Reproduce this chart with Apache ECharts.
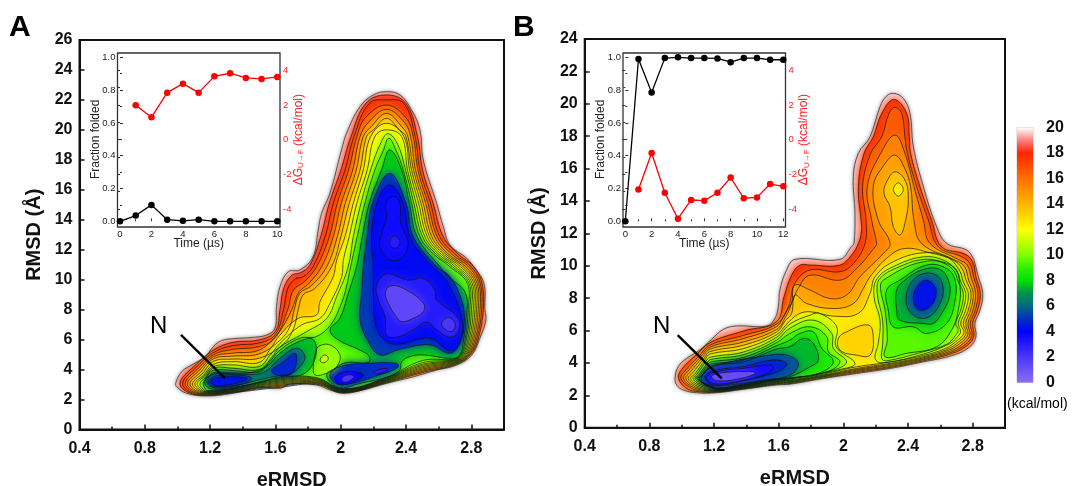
<!DOCTYPE html>
<html><head><meta charset="utf-8">
<script src="https://cdn.jsdelivr.net/npm/echarts@6/dist/echarts.min.js"></script>
<style>html,body{margin:0;padding:0;background:#fff}#c{width:1072px;height:486px}</style></head>
<body><div id="c"></div>
<script>
// ---- inset curves ----
const timeA=[0,1,2,3,4,5,6,7,8,9,10];
const foldedA=[0,0.035,0.1,0.01,0.003,0.01,0,0,0,0,0];
const dgTimeA=[1,2,3,4,5,6,7,8,9,10];
const dgA=[1.98,1.29,2.71,3.23,2.71,3.65,3.83,3.56,3.5,3.62];
const timeB=[0,1,2,3,4,5,6,7,8,9,10,11,12];
const foldedB=[0,0.99,0.785,0.995,1,0.995,0.995,0.993,0.97,0.995,0.995,0.985,0.985];
const dgTimeB=[1,2,3,4,5,6,7,8,9,10,11,12];
const dgB=[-2.88,-0.77,-3.06,-4.56,-3.48,-3.52,-3.06,-2.19,-3.38,-3.33,-2.56,-2.69];
// ---- colour scale ----
const scaleLevels=[0,2,4,5,6,7,8,9,10,12,14,16,18,19,20];
const scaleColors=['#8f6cf5','#4a36fa','#0000ff','#0030c0','#006a80','#009050','#00e000','#30f000','#80ff00','#ffff00','#ffb400','#ff7000','#ff2400','#ff8080','#ffffff'];
// ---- pointer to the native basin N: [eRMSD, RMSD] ----
const pointerA=[[1.0215,6.31],[1.2905,3.42]];
const pointerB=[[0.975,5.72],[1.247,3.05]];
// ---- Panel A free-energy contours: [eRMSD, RMSD] ----
const A20=[[0.989,3.08],[1.026,3.86],[1.097,4.37],[1.168,4.82],[1.219,5.53],[1.27,5.93],[1.342,6.06],[1.464,6.15],[1.546,6.31],[1.597,6.75],[1.607,8.2],[1.628,9.53],[1.679,10.53],[1.75,10.65],[1.83,11.53],[1.862,13.3],[1.883,14.43],[1.934,15.77],[2.005,18.66],[2.036,19.77],[2.118,21.55],[2.2,22.33],[2.281,22.55],[2.363,22.33],[2.434,21.33],[2.485,20],[2.505,18],[2.587,15.1],[2.628,13.54],[2.669,12.32],[2.771,11.43],[2.822,10.76],[2.877,9.76],[2.883,8],[2.889,7.31],[2.852,6.09],[2.802,4.97],[2.71,4.3],[2.587,3.97],[2.444,3.52],[2.281,3.08],[2.118,2.59],[2.015,2.42],[1.934,2.64],[1.852,2.97],[1.689,3.04],[1.628,2.75],[1.505,2.82],[1.34,2.42],[1.179,2.24],[1.056,2.42],[0.995,2.86]];
const A19=[[1.015,3.1],[1.1,4.2],[1.22,5.3],[1.34,5.82],[1.5,5.98],[1.6,6.55],[1.628,8],[1.65,9.4],[1.7,10.3],[1.75,10.45],[1.81,10.95],[1.877,12.87],[1.93,15.1],[2.001,17.32],[2.063,19.55],[2.154,21.77],[2.28,22.33],[2.399,21.77],[2.47,19.55],[2.501,17.32],[2.566,15.1],[2.628,12.87],[2.72,11.7],[2.815,10.87],[2.865,9.76],[2.873,8],[2.843,6.1],[2.795,5],[2.705,4.34],[2.5,3.8],[2.28,3.12],[2.015,2.45],[1.85,3.02],[1.63,2.82],[1.34,2.455],[1.18,2.28],[1.07,2.46]];
const A18=[[1.032,3.1],[1.11,4.1],[1.22,5.13],[1.34,5.6],[1.5,5.78],[1.6,6.35],[1.65,8],[1.675,9.4],[1.72,10.05],[1.77,10.2],[1.83,10.87],[1.904,12.87],[1.954,15.1],[2.026,17.32],[2.081,19.55],[2.175,21.77],[2.28,22],[2.387,21.77],[2.456,19.55],[2.485,17.32],[2.55,15.1],[2.607,12.87],[2.7,11.7],[2.799,10.87],[2.855,9.76],[2.863,8],[2.834,6.1],[2.788,5],[2.703,4.38],[2.5,3.88],[2.28,3.16],[2.015,2.48],[1.85,3.07],[1.63,2.89],[1.34,2.49],[1.18,2.31],[1.08,2.5]];
const A17=[[1.048,3.1],[1.12,4],[1.22,4.98],[1.34,5.35],[1.5,5.53],[1.6,6.15],[1.675,8],[1.71,9.3],[1.78,9.9],[1.852,10.87],[1.93,12.87],[1.979,15.1],[2.048,17.32],[2.099,19.55],[2.15,20.8],[2.28,21.66],[2.4,20.8],[2.444,19.55],[2.473,17.32],[2.534,15.1],[2.591,12.87],[2.68,11.7],[2.783,10.87],[2.845,9.76],[2.853,8],[2.825,6.1],[2.781,5],[2.701,4.42],[2.5,3.96],[2.28,3.2],[2.015,2.51],[1.85,3.12],[1.63,2.96],[1.34,2.525],[1.18,2.35],[1.09,2.54]];
const A16=[[1.062,3.1],[1.13,3.9],[1.22,4.85],[1.34,5.1],[1.5,5.3],[1.607,6.3],[1.658,7.1],[1.7,8],[1.745,9.2],[1.8,9.7],[1.883,10.87],[1.954,12.87],[2.003,15.1],[2.073,17.32],[2.118,19.55],[2.17,20.5],[2.28,21.37],[2.39,20.5],[2.428,19.55],[2.458,17.32],[2.52,15.1],[2.575,12.87],[2.66,11.7],[2.766,10.87],[2.835,9.76],[2.842,8],[2.816,6.1],[2.774,5],[2.699,4.46],[2.5,4.04],[2.28,3.24],[2.015,2.54],[1.85,3.17],[1.63,3.03],[1.34,2.56],[1.18,2.38],[1.1,2.58]];
const A15=[[1.077,3.1],[1.14,3.8],[1.22,4.72],[1.34,4.9],[1.5,5.05],[1.63,5.98],[1.69,6.9],[1.715,8],[1.75,9.1],[1.82,9.6],[1.914,10.87],[1.979,12.87],[2.028,15.1],[2.095,17.32],[2.138,19.55],[2.185,20.2],[2.28,21.1],[2.375,20.2],[2.411,19.55],[2.446,17.32],[2.505,15.1],[2.558,12.87],[2.645,11.7],[2.75,10.87],[2.825,9.76],[2.832,8],[2.807,6.1],[2.767,5],[2.697,4.5],[2.5,4.12],[2.28,3.28],[2.015,2.57],[1.85,3.22],[1.63,3.1],[1.34,2.6],[1.18,2.42],[1.11,2.62]];
const A14=[[1.093,3.1],[1.15,3.7],[1.22,4.55],[1.34,4.7],[1.5,4.76],[1.648,5.7],[1.71,6.7],[1.74,8],[1.77,9],[1.84,9.4],[1.944,10.87],[2.001,12.87],[2.052,15.1],[2.118,17.32],[2.158,19.55],[2.2,20],[2.28,20.77],[2.36,20],[2.399,19.55],[2.434,17.32],[2.491,15.1],[2.544,12.87],[2.63,11.7],[2.734,10.87],[2.815,9.76],[2.822,8],[2.798,6.1],[2.76,5],[2.695,4.54],[2.5,4.2],[2.28,3.32],[2.015,2.6],[1.85,3.27],[1.63,3.17],[1.34,2.63],[1.18,2.45],[1.12,2.66]];
const A13=[[1.107,3.1],[1.16,3.62],[1.22,4.35],[1.34,4.53],[1.5,4.47],[1.57,5.4],[1.628,6.3],[1.74,7.42],[1.852,7.65],[1.873,8.53],[1.954,10.2],[1.975,11.3],[2.026,12.87],[2.077,15.1],[2.138,17.32],[2.183,19.55],[2.28,20.44],[2.387,19.55],[2.422,17.32],[2.477,15.1],[2.53,12.87],[2.615,11.7],[2.717,10.87],[2.805,9.76],[2.812,8],[2.789,6.1],[2.753,5],[2.693,4.58],[2.5,4.28],[2.28,3.36],[2.015,2.63],[1.85,3.32],[1.63,3.24],[1.34,2.67],[1.18,2.49],[1.13,2.7]];
const A12=[[1.121,3.1],[1.165,3.55],[1.22,4.2],[1.34,4.31],[1.5,4.2],[1.57,5],[1.628,5.75],[1.761,6.98],[1.873,7.42],[1.934,8.42],[2.006,10.2],[2.016,11.3],[2.052,12.87],[2.099,15.1],[2.162,17.32],[2.209,19.55],[2.28,20],[2.373,19.55],[2.409,17.32],[2.462,15.1],[2.515,12.87],[2.6,11.7],[2.701,10.87],[2.795,9.76],[2.801,8],[2.78,6.1],[2.746,5],[2.691,4.62],[2.5,4.36],[2.28,3.4],[2.015,2.66],[1.85,3.37],[1.63,3.31],[1.34,2.7],[1.18,2.52],[1.14,2.74]];
const A11=[[1.138,3.1],[1.17,3.45],[1.22,4.1],[1.34,4.09],[1.5,4],[1.57,4.7],[1.628,5.49],[1.791,6.53],[1.914,7.42],[1.975,8.87],[2.046,10.87],[2.077,12.87],[2.124,15.1],[2.183,17.32],[2.24,19],[2.29,19.75],[2.35,19],[2.397,17.32],[2.448,15.1],[2.501,12.87],[2.585,11.7],[2.685,10.87],[2.785,9.76],[2.791,8],[2.771,6.1],[2.74,5],[2.689,4.66],[2.5,4.46],[2.28,3.44],[2.015,2.69],[1.85,3.42],[1.63,3.38],[1.34,2.74],[1.18,2.56],[1.15,2.78]];
const A10=[[1.158,3.1],[1.18,3.5],[1.22,3.95],[1.34,3.93],[1.5,3.85],[1.56,4.45],[1.628,5.3],[1.75,6.1],[1.85,6.2],[1.94,7],[2,8.3],[2.03,9.3],[2.061,10.87],[2.101,12.87],[2.148,15.1],[2.209,17.32],[2.26,18.6],[2.295,19.44],[2.34,18.6],[2.383,17.32],[2.434,15.1],[2.485,12.87],[2.57,11.7],[2.669,10.87],[2.775,9.76],[2.781,8],[2.763,6.1],[2.735,5],[2.687,4.7],[2.5,4.6],[2.28,3.48],[2.015,2.72],[1.85,3.47],[1.63,3.45],[1.34,2.77],[1.18,2.6],[1.165,2.82]];
const AM8=[[2.3,18.67],[2.373,17.32],[2.42,15.1],[2.468,12.87],[2.607,10.87],[2.66,10.2],[2.765,9.09],[2.767,7.3],[2.752,5.98],[2.728,4.95],[2.67,4.75],[2.506,4.98],[2.424,4.87],[2.373,4.53],[2.363,3.98],[2.3,3.55],[2.097,3.02],[2.016,2.78],[1.955,2.98],[1.914,3.65],[1.965,4.09],[2.036,4.47],[2.169,4.47],[2.175,4.87],[2.118,5.3],[1.985,5.98],[1.934,6.65],[1.995,7.42],[2.046,9.09],[2.097,10.87],[2.132,12.87],[2.175,15.1],[2.25,17.32]];
const AM6=[[2.3,17.1],[2.399,15.1],[2.444,12.87],[2.587,10.87],[2.669,10.2],[2.74,8.65],[2.757,7.3],[2.73,5.76],[2.669,5.09],[2.546,5.65],[2.363,5.36],[2.24,4.98],[2.169,5.87],[2.118,7.32],[2.128,9.09],[2.138,10.87],[2.162,12.87],[2.195,15.1]];
const AM5=[[2.3,16.33],[2.383,15.1],[2.424,12.87],[2.526,11.3],[2.587,10.65],[2.659,9.76],[2.744,7.3],[2.726,5.76],[2.669,5.27],[2.546,6.09],[2.363,5.71],[2.281,5.87],[2.216,6.87],[2.2,8.9],[2.2,10.87],[2.189,12.87],[2.22,15.1]];
const APeanut=[[2.326,15.56],[2.363,15.1],[2.367,13.78],[2.413,12.44],[2.373,11.44],[2.301,11.33],[2.24,12.2],[2.25,13.1],[2.281,14.2],[2.277,15.1]];
const ACircle=[[2.33,12.93],[2.363,12.5],[2.33,12.09],[2.297,12.5]];
const AM3=[[2.281,10.38],[2.414,9.98],[2.506,10.09],[2.577,9.31],[2.587,8.65],[2.72,7.43],[2.72,6.54],[2.669,6.16],[2.587,6.65],[2.526,7.16],[2.444,6.65],[2.342,6.16],[2.281,6.31],[2.271,7.54],[2.23,8.65],[2.22,9.65]];
const AM2=[[2.301,9.58],[2.383,9.43],[2.506,8.43],[2.506,7.87],[2.444,7.42],[2.373,7.2],[2.332,7.65],[2.291,8.43],[2.273,9.09]];
const ASpot=[[2.659,7.49],[2.7,7.09],[2.689,6.6],[2.648,6.6],[2.618,7.09]];
const ALow6=[[1.934,3.65],[1.995,4.2],[2.179,4.42],[2.342,4.42],[2.352,4.16],[2.24,3.65],[2.056,3.05],[1.975,3.05]];
const ALow4=[[1.965,3.49],[2.036,3.87],[2.138,3.65],[2.067,3.13],[1.985,3.09]];
const ALow3=[[2.006,3.43],[2.046,3.65],[2.081,3.54],[2.046,3.2],[2.012,3.2]];
const ALow3b=[[2.203,3.87],[2.281,4.09],[2.285,3.93],[2.22,3.71]];
const AHill=[[1.863,5.53],[1.934,5.65],[1.995,4.98],[1.975,4.2],[1.914,3.76],[1.842,3.65],[1.832,4.2],[1.842,4.98]];
const AHillTop=[[1.877,4.76],[1.904,4.98],[1.924,4.76],[1.904,4.47],[1.877,4.53]];
const AT8=[[1.168,3.2],[1.195,3.58],[1.23,3.82],[1.34,3.78],[1.444,3.8],[1.546,4.2],[1.628,5.1],[1.75,5.9],[1.832,6],[1.846,4.87],[1.775,3.72],[1.628,3.52],[1.505,3.14],[1.342,2.82],[1.219,2.69],[1.175,2.9]];
const AT7=[[1.18,3.2],[1.22,3.69],[1.382,3.7],[1.525,3.8],[1.628,4.76],[1.73,5.43],[1.781,4.87],[1.75,4.2],[1.689,3.7],[1.628,3.62],[1.484,3.27],[1.342,2.91],[1.219,2.8]];
const ATri=[[1.576,3.94],[1.638,4.42],[1.72,5.09],[1.725,4.31],[1.689,3.65],[1.607,3.65]];
const AN6=[[1.19,3.25],[1.24,3.58],[1.382,3.62],[1.454,3.42],[1.382,3],[1.24,2.86],[1.2,2.98]];
const AN4=[[1.2,3.2],[1.26,3.5],[1.382,3.5],[1.427,3.36],[1.342,3.04],[1.24,2.93]];
// ---- Panel B free-energy contours: [eRMSD, RMSD] ----
const B20=[[0.959,3.05],[0.979,3.77],[1.031,4.28],[1.113,4.8],[1.185,5.46],[1.258,6.07],[1.34,6.28],[1.526,6.28],[1.577,6.75],[1.598,7.47],[1.608,8.5],[1.649,9.73],[1.701,10.39],[1.979,10.39],[2.05,11.17],[2.066,11.38],[2.072,13.23],[2.062,15.5],[2.093,16.94],[2.165,17.96],[2.227,19.82],[2.268,20.48],[2.313,20.64],[2.371,20.33],[2.412,19.4],[2.433,17.35],[2.495,14.88],[2.577,12.41],[2.639,11.38],[2.763,10.97],[2.804,10.45],[2.814,10.14],[2.835,9.32],[2.862,8.29],[2.845,7.26],[2.814,6.44],[2.82,5.62],[2.783,5],[2.68,4.48],[2.495,4.07],[2.289,3.66],[2.082,3.35],[1.876,3.04],[1.67,2.69],[1.587,2.64],[1.381,2.37],[1.216,2.16],[1.093,2.16],[1.01,2.33],[0.969,2.64]];
const B18=[[0.98,3.05],[1,3.6],[1.09,4.5],[1.175,5.25],[1.381,5.97],[1.587,6.55],[1.633,8.09],[1.68,9.43],[1.732,10.04],[1.794,10.04],[1.979,10.04],[2.051,10.66],[2.093,11.38],[2.113,12.2],[2.109,12.82],[2.093,14.88],[2.128,16.94],[2.185,17.96],[2.237,19.4],[2.313,20.27],[2.392,19.4],[2.408,17.96],[2.416,16.94],[2.474,14.88],[2.546,12.82],[2.608,11.17],[2.752,10.72],[2.8,10.25],[2.82,9.32],[2.847,8.29],[2.83,7.26],[2.8,6.44],[2.808,5.66],[2.769,5.1],[2.674,4.59],[2.495,4.13],[2.289,3.72],[2.082,3.41],[1.876,3.08],[1.67,2.73],[1.587,2.68],[1.381,2.4],[1.216,2.2],[1.105,2.22],[1.03,2.42]];
const B17=[[0.995,3.05],[1.02,3.5],[1.11,4.45],[1.175,5.1],[1.381,5.7],[1.587,6.4],[1.66,7.47],[1.7,8.91],[1.794,9.74],[1.979,9.63],[2.062,10.14],[2.134,11.38],[2.14,12.82],[2.119,14.88],[2.169,16.94],[2.237,17.96],[2.282,19.4],[2.32,19.78],[2.361,19.4],[2.381,17.96],[2.396,16.94],[2.454,14.88],[2.526,12.82],[2.588,11.17],[2.732,10.56],[2.783,10.14],[2.806,9.32],[2.833,8.29],[2.816,7.26],[2.785,6.44],[2.796,5.7],[2.757,5.16],[2.666,4.65],[2.495,4.2],[2.289,3.78],[2.082,3.48],[1.876,3.13],[1.67,2.78],[1.587,2.72],[1.381,2.43],[1.216,2.23],[1.115,2.27],[1.05,2.5]];
const B16=[[1.01,3.05],[1.035,3.45],[1.12,4.4],[1.175,4.98],[1.381,5.5],[1.587,6.24],[1.63,6.9],[1.685,7.8],[1.72,8.6],[1.794,9.42],[1.979,9.11],[2.082,9.83],[2.196,11.17],[2.206,11.38],[2.175,12.82],[2.148,14.88],[2.231,16.94],[2.32,18.07],[2.381,16.94],[2.437,14.88],[2.495,12.82],[2.536,11.38],[2.711,10.39],[2.767,10.04],[2.792,9.22],[2.818,8.29],[2.802,7.26],[2.771,6.44],[2.783,5.74],[2.744,5.22],[2.658,4.71],[2.495,4.26],[2.289,3.85],[2.082,3.54],[1.876,3.17],[1.67,2.82],[1.587,2.76],[1.381,2.46],[1.216,2.26],[1.125,2.32],[1.06,2.55]];
const B15=[[1.025,3.05],[1.05,3.4],[1.13,4.35],[1.175,4.85],[1.381,5.29],[1.587,6.07],[1.64,6.8],[1.68,7.7],[1.7,8.8],[1.794,8.5],[1.917,7.98],[2.02,8.19],[2.103,9.32],[2.247,10.76],[2.289,11.38],[2.216,12.82],[2.185,14.88],[2.25,16.2],[2.32,16.83],[2.38,16],[2.416,14.88],[2.437,12.82],[2.484,11.38],[2.691,10.35],[2.75,9.94],[2.775,9.11],[2.804,8.29],[2.787,7.26],[2.757,6.44],[2.771,5.78],[2.732,5.29],[2.649,4.77],[2.495,4.32],[2.289,3.91],[2.082,3.6],[1.876,3.21],[1.67,2.86],[1.587,2.8],[1.381,2.49],[1.216,2.29],[1.135,2.37],[1.07,2.6]];
const B14=[[1.04,3.05],[1.065,3.35],[1.14,4.3],[1.175,4.7],[1.381,5.09],[1.587,5.91],[1.64,6.6],[1.68,7.06],[1.7,8.19],[1.773,7.67],[1.938,7.36],[2.062,7.67],[2.124,8.6],[2.165,9.32],[2.278,10.55],[2.381,11.07],[2.536,10.8],[2.68,10.35],[2.734,9.83],[2.759,9.11],[2.79,8.29],[2.773,7.26],[2.742,6.44],[2.759,5.82],[2.72,5.35],[2.641,4.83],[2.495,4.38],[2.289,3.97],[2.082,3.66],[1.876,3.25],[1.67,2.9],[1.587,2.84],[1.381,2.52],[1.216,2.32],[1.145,2.42],[1.08,2.65]];
const B13=[[1.055,3.05],[1.08,3.3],[1.145,4.2],[1.175,4.55],[1.381,4.88],[1.587,5.74],[1.65,6.4],[1.72,7],[1.794,7.16],[1.938,6.89],[2.093,7.06],[2.165,8.29],[2.196,9.32],[2.309,10.25],[2.495,10.8],[2.64,10.55],[2.717,9.73],[2.742,9.01],[2.773,8.29],[2.757,7.26],[2.726,6.44],[2.746,5.86],[2.707,5.41],[2.633,4.9],[2.495,4.46],[2.289,4.05],[2.082,3.76],[1.876,3.31],[1.67,2.94],[1.587,2.88],[1.381,2.55],[1.216,2.35],[1.155,2.47],[1.09,2.7]];
const BIsle14=[[2.32,15.8],[2.381,15.29],[2.402,14.16],[2.381,12.62],[2.35,11.9],[2.309,12.41],[2.289,13.64],[2.251,14.47],[2.268,15.19]];
const BIsle13=[[2.34,15.12],[2.371,14.71],[2.34,14.3],[2.309,14.71]];
const BHill=[[1.969,5.51],[2.02,5.92],[2.155,6.34],[2.185,5.62],[2.165,4.48],[2.082,4.48],[1.979,4.79]];
const BM12=[[2.495,10.55],[2.33,10.04],[2.21,9.22],[2.19,8.08],[2.227,6.64],[2.216,5.2],[2.196,4.28],[2.237,4.01],[2.495,4.55],[2.66,5.2],[2.7,5.55],[2.725,5.92],[2.711,6.44],[2.74,7.26],[2.757,8.29],[2.726,9.01],[2.697,9.73],[2.618,10.35]];
const BM11=[[2.227,9.22],[2.371,10.04],[2.495,10.39],[2.598,10.25],[2.68,9.73],[2.711,9.01],[2.742,8.29],[2.726,7.26],[2.695,6.44],[2.71,6.03],[2.69,5.65],[2.64,5.15],[2.495,4.69],[2.268,4.13],[2.237,4.28],[2.243,5.1],[2.243,6.64],[2.21,8.29]];
const BM10=[[2.247,9.11],[2.23,8.6],[2.258,7.26],[2.272,5.41],[2.258,4.38],[2.392,4.59],[2.577,5],[2.67,6.03],[2.711,7.26],[2.722,8.7],[2.68,9.94],[2.495,10.25]];
const BM9=[[2.268,8.5],[2.35,9.11],[2.515,10.04],[2.639,9.83],[2.691,9.11],[2.691,7.88],[2.639,6.44],[2.515,5.82],[2.433,6.23],[2.309,6.23],[2.278,7.26]];
const BM8=[[2.33,8.5],[2.381,9.11],[2.495,9.77],[2.598,9.77],[2.649,9.11],[2.656,8.08],[2.608,7.06],[2.557,6.44],[2.495,6.44],[2.35,6.64],[2.33,7.26]];
const BM7=[[2.388,7.98],[2.423,9.01],[2.505,9.53],[2.588,9.32],[2.618,8.5],[2.598,7.67],[2.546,6.95],[2.484,6.75],[2.412,7.16]];
const BM5=[[2.433,8.08],[2.464,8.8],[2.515,9.11],[2.567,8.7],[2.573,8.19],[2.546,7.57],[2.495,7.26],[2.454,7.36]];
const BT12=[[1.07,3.05],[1.09,3.25],[1.15,4.1],[1.175,4.35],[1.381,4.67],[1.587,5.58],[1.67,6.4],[1.794,6.95],[1.855,7.05],[1.959,6.23],[1.955,5],[2.072,3.97],[1.98,3.6],[1.67,3],[1.587,2.92],[1.381,2.58],[1.216,2.38],[1.165,2.52],[1.1,2.75]];
const BT11=[[1.082,3.05],[1.1,3.2],[1.155,3.95],[1.175,4.2],[1.381,4.51],[1.587,5.41],[1.67,6.15],[1.814,6.64],[1.928,5.82],[1.938,4.9],[2.02,4.07],[1.938,3.56],[1.67,3.02],[1.587,2.95],[1.381,2.6],[1.216,2.41],[1.175,2.56],[1.11,2.8]];
const BT10=[[1.093,3.05],[1.11,3.2],[1.16,3.85],[1.175,4.05],[1.381,4.34],[1.587,5.25],[1.67,5.82],[1.794,6.23],[1.897,5.62],[1.907,4.69],[1.979,4.07],[1.897,3.45],[1.67,3.05],[1.587,2.98],[1.381,2.63],[1.216,2.44],[1.185,2.6],[1.12,2.85]];
const BT9=[[1.1,3.05],[1.12,3.2],[1.165,3.75],[1.175,3.92],[1.381,4.18],[1.587,5.06],[1.67,5.41],[1.732,5.82],[1.814,5.92],[1.866,4.9],[1.938,4.07],[1.845,3.35],[1.67,3.08],[1.587,3],[1.381,2.66],[1.216,2.4],[1.165,2.55],[1.12,2.85]];
const BT8=[[1.109,3.05],[1.13,3.25],[1.17,3.7],[1.2,3.88],[1.381,4.06],[1.587,4.86],[1.67,5],[1.752,5.51],[1.814,5.2],[1.845,4.17],[1.794,3.76],[1.67,3.15],[1.587,3.03],[1.381,2.69],[1.216,2.43],[1.17,2.56],[1.125,2.8]];
const BT6=[[1.12,3.05],[1.154,3.56],[1.258,3.97],[1.484,4.39],[1.649,4.49],[1.722,3.97],[1.67,3.25],[1.484,2.9],[1.278,2.62],[1.18,2.58],[1.13,2.76]];
const BT5=[[1.144,3.15],[1.216,3.56],[1.381,3.77],[1.567,4.18],[1.649,3.97],[1.608,3.52],[1.381,2.9],[1.196,2.64]];
const BT4=[[1.154,3.15],[1.216,3.46],[1.381,3.67],[1.546,3.87],[1.567,3.67],[1.505,3.25],[1.278,2.74],[1.175,2.78]];
const BT2=[[1.185,3.19],[1.258,3.4],[1.443,3.46],[1.454,3.32],[1.34,2.99],[1.216,2.9]];
// energy shown inside each contour, with its outline, painted in this order
const layersA=[[19.6,A20],[18.4,A19],[17.6,A18],[16.6,A17],[15.5,A16],[14.6,A15],[13.6,A14],[12.7,A13],[11.8,A12],[10.8,A11],[9.6,A10],[7.7,AM8],[5.2,AM6],[4.2,AM5],[3.6,APeanut],[3,ACircle],[3,AM3],[1.4,AM2],[2,ASpot],[5,ALow6],[4,ALow4],[2,ALow3],[3,ALow3b],[10.3,AHill],[11.2,AHillTop],[7.6,AT8],[6.4,AT7],[4.8,ATri],[5.4,AN6],[4.4,AN4]];
const layersB=[[19.6,B20],[17.6,B18],[16.6,B17],[15.5,B16],[14.6,B15],[13.6,B14],[12.6,B13],[13.6,BIsle14],[12.4,BIsle13],[13.2,BHill],[11.5,BM12],[10.5,BM11],[9.5,BM10],[8.6,BM9],[7.4,BM8],[6.2,BM7],[4.4,BM5],[11.5,BT12],[10.5,BT11],[9.5,BT10],[8.6,BT9],[7.5,BT8],[5.7,BT6],[4.8,BT5],[3.4,BT4],[1.2,BT2]];

function colorOf(v){
  let i=0; while(i<scaleLevels.length-2&&v>scaleLevels[i+1])i++;
  const t=Math.min(1,Math.max(0,(v-scaleLevels[i])/(scaleLevels[i+1]-scaleLevels[i])));
  const a=scaleColors[i],b=scaleColors[i+1],p=s=>[1,3,5].map(k=>parseInt(s.substr(k,2),16));
  const ca=p(a),cb=p(b);
  return 'rgb('+ca.map((c,k)=>Math.round(c+(cb[k]-c)*t)).join(',')+')';
}
const SMOOTH=0.4, FONT='"Liberation Sans",Arial,sans-serif', INK='#111', FRAME='#333', RED='#ff2020';
function contourSeries(layers,ax){
  const shape=(api,pts)=>({points:pts.map(p=>api.coord(p)),smooth:SMOOTH});
  const data=layers.map(l=>[l[1][0][0],l[1][0][1]]);
  const base={type:'custom',coordinateSystem:'cartesian2d',xAxisIndex:ax,yAxisIndex:ax,silent:true,clip:false,animation:false,encode:{x:0,y:1},data};
  return [
    Object.assign({},base,{z:2,renderItem(p,api){
      const l=layers[p.dataIndex],c=colorOf(l[0]),outer=p.dataIndex===0;
      return {type:'polygon',shape:shape(api,l[1]),
        clipPath:outer?undefined:{type:'polygon',shape:shape(api,layers[0][1])},
        style:{fill:c,shadowBlur:outer?4:10,shadowColor:outer?'#777':c}};
    }}),
    Object.assign({},base,{z:3,renderItem(p,api){
      const outer=p.dataIndex===0;
      return {type:'polygon',shape:shape(api,layers[p.dataIndex][1]),
        style:{fill:'none',stroke:outer?'#555':'#111',lineWidth:outer?1:0.7}};
    }})
  ];
}
const hiddenAxis=(gridIndex)=>({gridIndex,type:'value',min:0,max:1,show:false});
const mainX=(gridIndex)=>({gridIndex,type:'value',min:0.4,max:3,interval:0.4,splitLine:{show:false},
  name:'eRMSD',nameLocation:'middle',nameGap:41,nameMoveOverlap:false,
  nameTextStyle:{fontFamily:FONT,fontWeight:'bold',fontSize:20,color:INK},
  axisLine:{show:true,lineStyle:{color:INK,width:2}},
  axisTick:{inside:true,length:5,lineStyle:{color:INK,width:1.5}},
  minorTick:{show:true,splitNumber:2,length:3,lineStyle:{color:INK,width:1.5}},
  axisLabel:{fontFamily:FONT,fontWeight:'bold',fontSize:16,color:INK,margin:11,showMaxLabel:false}});
const mainY=(gridIndex,max)=>({gridIndex,type:'value',min:0,max,interval:2,splitLine:{show:false},
  name:'RMSD (Å)',nameLocation:'middle',nameGap:35,nameMoveOverlap:false,
  nameTextStyle:{fontFamily:FONT,fontWeight:'bold',fontSize:20,color:INK},
  axisLine:{show:true,lineStyle:{color:INK,width:2}},
  axisTick:{inside:true,length:5,lineStyle:{color:INK,width:1.5}},
  axisLabel:{fontFamily:FONT,fontWeight:'bold',fontSize:16,color:INK,margin:7}});
const insetTick=()=>({axisLine:{show:false},
  axisTick:{inside:true,length:3,lineStyle:{color:FRAME}},
  minorTick:{show:true,splitNumber:2,length:2,lineStyle:{color:FRAME}}});
const insetX=(gridIndex,max,offset)=>Object.assign(insetTick(),{gridIndex,type:'value',min:0,max,interval:2,offset,splitLine:{show:false},
  name:'Time (µs)',nameLocation:'middle',nameGap:11,nameMoveOverlap:false,
  nameTextStyle:{fontFamily:FONT,fontSize:12,color:'#222'},
  axisLabel:{fontFamily:FONT,fontSize:9.5,color:'#222',margin:2}});
const insetLeft=(gridIndex,offset)=>Object.assign(insetTick(),{gridIndex,type:'value',min:0,max:1,interval:0.2,offset,splitLine:{show:false},
  name:'Fraction folded',nameLocation:'middle',nameGap:16,nameMoveOverlap:false,
  nameTextStyle:{fontFamily:FONT,fontSize:12,color:'#222'},
  axisLabel:{fontFamily:FONT,fontSize:9.5,color:'#222',margin:2,formatter:v=>v.toFixed(1)}});
const insetRight=(gridIndex,offset)=>Object.assign(insetTick(),{gridIndex,type:'value',position:'right',min:-4,max:4,interval:2,offset,splitLine:{show:false},
  name:'{a|ΔG}{b|U→F}{a| (kcal/mol)}',nameLocation:'middle',nameGap:12,nameRotate:90,nameMoveOverlap:false,
  nameTextStyle:{color:RED,rich:{a:{fontFamily:FONT,fontSize:12,color:RED},b:{fontFamily:FONT,fontSize:8,color:RED,verticalAlign:'bottom',padding:[5,0,0,0]}}},
  axisLabel:{fontFamily:FONT,fontSize:9.5,color:RED,margin:3}});
const curve=(xs,ys,ax,color)=>({type:'line',xAxisIndex:ax,yAxisIndex:ax,z:6,animation:false,silent:true,clip:false,
  symbol:'circle',symbolSize:6.5,itemStyle:{color},lineStyle:{color,width:1.3},data:xs.map((x,i)=>[x,ys[i]])});
const pointer=(pts,ax)=>({type:'line',xAxisIndex:ax,yAxisIndex:ax,z:6,animation:false,silent:true,showSymbol:false,
  lineStyle:{color:'#000',width:2.4},data:pts});
const stops=[];
scaleLevels.forEach((v,i)=>stops.push({offset:1-v/20,color:scaleColors[i]}));
stops.reverse();
const txt=(s,left,top,size,bold)=>({type:'text',left,top,style:{text:s,fontFamily:FONT,fontSize:size,fontWeight:bold?'bold':'normal',fill:'#000'},z:20});
const grid=(left,top,width,height,bc,bw)=>({left,top,width,height,outerBoundsMode:'none',containLabel:false,show:!!bw,borderColor:bc,borderWidth:bw,backgroundColor:'transparent'});
const chart=echarts.init(document.getElementById('c'),null,{renderer:'canvas'});
chart.setOption({
  backgroundColor:'#fff',animation:false,
  grid:[
    grid(79.5,40,424.5,389.5,INK,2),      // 0 panel A
    grid(117.5,53,162.5,174,FRAME,1.3),   // 1 inset A frame
    grid(584.7,39,420.3,388.7,INK,2),     // 2 panel B
    grid(623,53,162.5,174,FRAME,1.3),     // 3 inset B frame
    grid(1017,127.5,16,255,'#ccc',1),     // 4 colour bar
    grid(120,57.3,157.3,164,'',0),        // 5 inset A fraction
    grid(120,70.3,157.3,138.7,'',0),      // 6 inset A dG
    grid(625.3,57.3,158,164,'',0),        // 7 inset B fraction
    grid(625.3,70.3,158,138.7,'',0)       // 8 inset B dG
  ],
  xAxis:[
    mainX(0),hiddenAxis(1),mainX(2),hiddenAxis(3),
    {gridIndex:4,type:'category',data:['scale'],show:false},
    insetX(5,10,5.7),
    {gridIndex:6,type:'value',min:0,max:10,show:false},
    insetX(7,12,5.7),
    {gridIndex:8,type:'value',min:0,max:12,show:false}
  ],
  yAxis:[
    mainY(0,26),hiddenAxis(1),mainY(2,24),hiddenAxis(3),
    {gridIndex:4,type:'value',position:'right',min:0,max:20,interval:2,splitLine:{show:false},
     axisLine:{show:false},axisTick:{length:8,lineStyle:{color:'#999'}},
     axisLabel:{fontFamily:FONT,fontWeight:'bold',fontSize:16,color:INK,margin:13}},
    insetLeft(5,2.5),insetRight(6,2.7),insetLeft(7,2.3),insetRight(8,2.2)
  ],
  series:[
    ...contourSeries(layersA,0),
    ...contourSeries(layersB,2),
    pointer(pointerA,0),pointer(pointerB,2),
    curve(timeA,foldedA,5,'#000'),
    curve(dgTimeA,dgA,6,'#ff0000'),
    curve(timeB,foldedB,7,'#000'),
    curve(dgTimeB,dgB,8,'#ff0000'),
    {type:'bar',xAxisIndex:4,yAxisIndex:4,barWidth:'100%',silent:true,animation:false,z:2,data:[20],
     itemStyle:{color:new echarts.graphic.LinearGradient(0,0,0,1,stops)}}
  ],
  graphic:[
    txt('A',9,13,30,true),txt('B',513,13,30,true),
    txt('N',150,314,24,false),txt('N',653,314,24,false),
    txt('(kcal/mol)',1007,397,14,false)
  ]
});
</script></body></html>
